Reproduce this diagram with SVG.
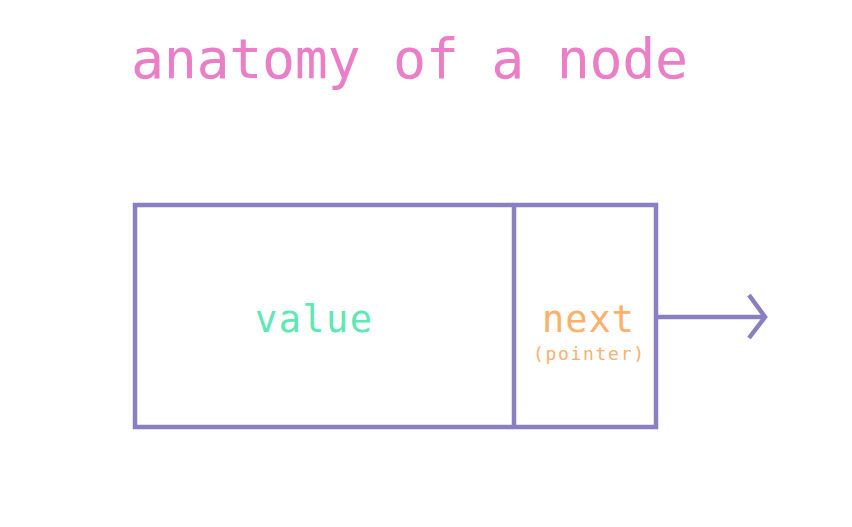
<svg xmlns="http://www.w3.org/2000/svg" width="852" height="527" viewBox="0 0 852 527">
<style>
text{font-family:"DejaVu Sans Mono","Liberation Mono",monospace;text-anchor:middle}
.title{fill:#ea7fc8;font-size:55px}
.val{fill:#5ee8b4;font-size:37px}
.nxt{fill:#fbb06b;font-size:37px}
.ptr{fill:#fbb06b;font-size:18px}
.ln{stroke:#8a7fc0;stroke-width:4.5;fill:none}
</style>
<rect width="852" height="527" fill="#fff"/>
<text class="title" x="409.5" y="78" textLength="557" lengthAdjust="spacing">anatomy of a node</text>
<g id="node">
<rect class="ln" x="135" y="205" width="521" height="222"/>
<line class="ln" x1="514" y1="205" x2="514" y2="427"/>
</g>
<g id="value"><text class="val" x="313.5" y="332" textLength="117" lengthAdjust="spacing">value</text></g>
<g id="next">
<text class="nxt" x="588" y="332" textLength="92" lengthAdjust="spacing">next</text>
<text class="ptr" x="588.5" y="360" textLength="111" lengthAdjust="spacing">(pointer)</text>
</g>
<g id="connectors">
<line class="ln" x1="658" y1="317" x2="764" y2="317"/>
<polyline class="ln" points="749,295 765,317 749,338"/>
</g>
</svg>
